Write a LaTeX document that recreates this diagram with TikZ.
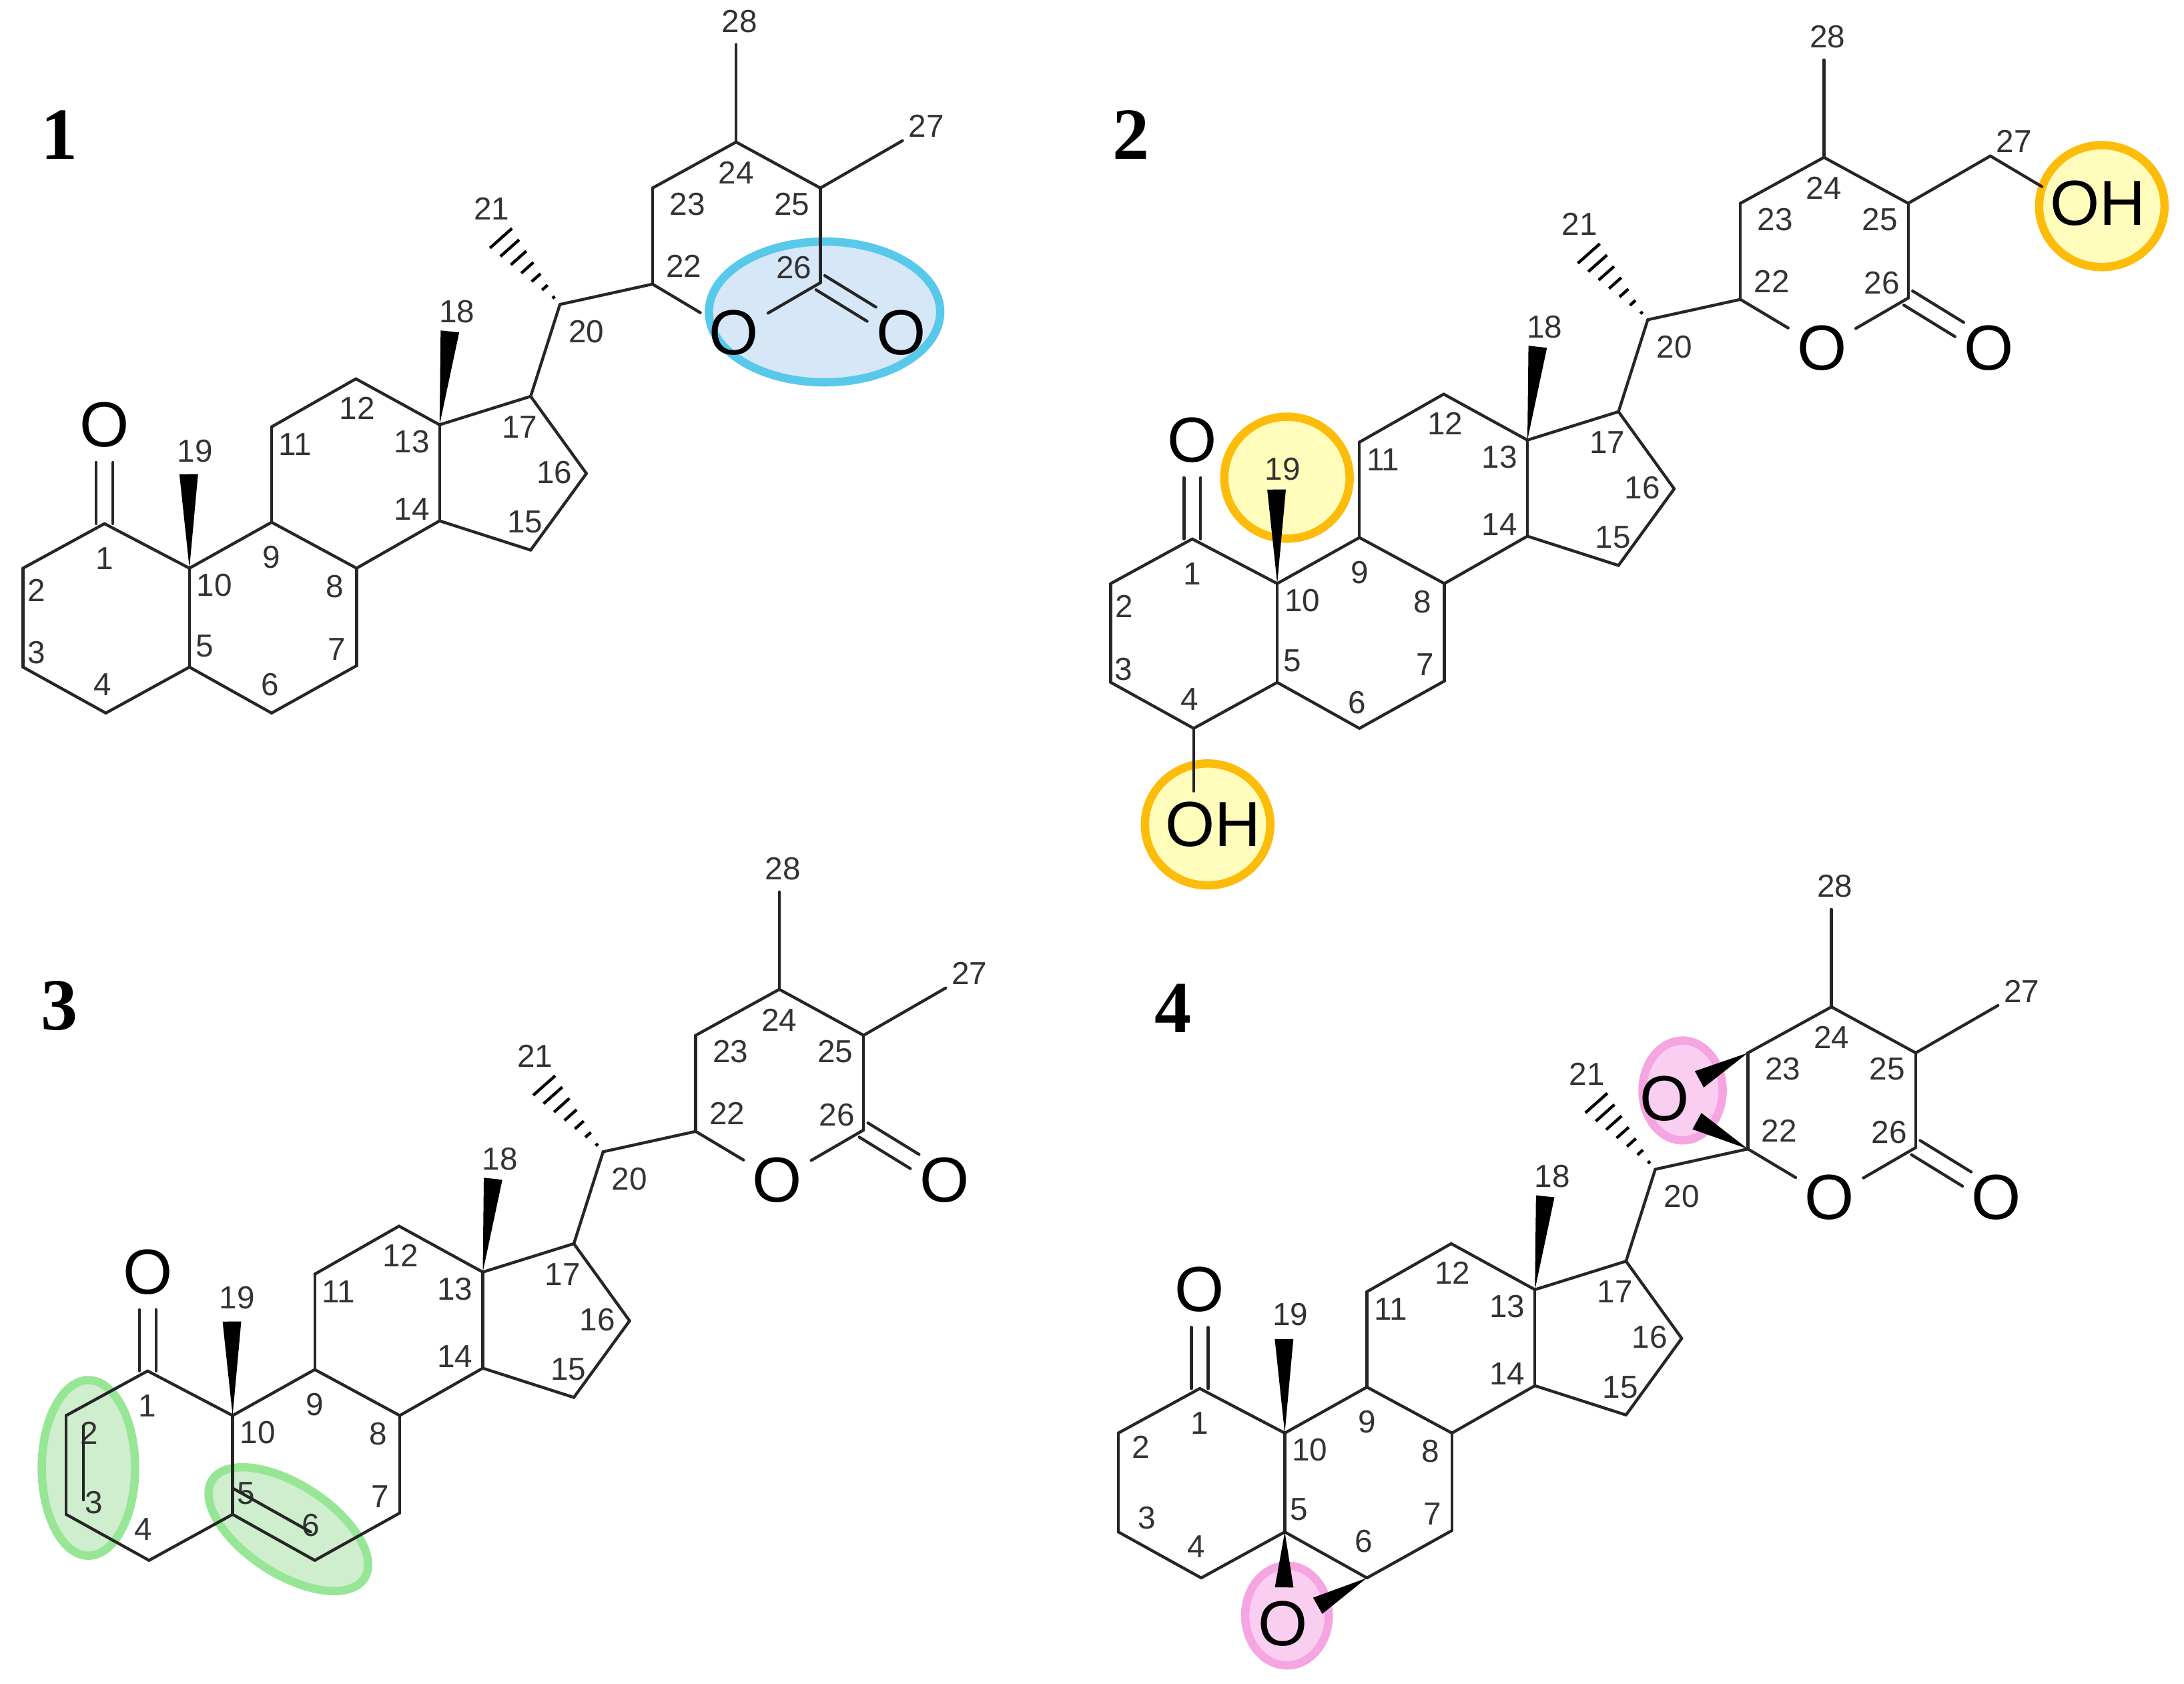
\documentclass[tikz,border=0pt]{standalone}
\usepackage{fontspec}
\setmainfont{Liberation Sans}
\newfontfamily\molfont{Liberation Serif}
\usetikzlibrary{calc}
\usetikzlibrary{shapes.geometric}
\definecolor{lactonefill}{RGB}{214,231,247}
\definecolor{lactoneline}{RGB}{88,200,235}
\definecolor{hydroxyfill}{RGB}{255,252,188}
\definecolor{hydroxyline}{RGB}{253,188,10}
\definecolor{alkenefill}{RGB}{206,238,206}
\definecolor{alkeneline}{RGB}{150,230,150}
\definecolor{epoxyfill}{RGB}{250,206,240}
\definecolor{epoxyline}{RGB}{245,165,225}
\newcommand{\wedgebond}[2]{\fill (#1) -- ($(#2)!1.9pt!90:(#1)$) -- ($(#2)!1.9pt!-90:(#1)$) -- cycle;}
\newcommand{\hashbond}[2]{\foreach \t in {0.1,0.24,...,1} {\draw [line width=0.6pt] ($($(#1)!\t!(#2)$)!\t*3.2pt!90:(#2)$) -- ($($(#1)!\t!(#2)$)!\t*3.2pt!-90:(#2)$);}}
\newcommand{\dblbond}[3]{\draw [bond] ($(#1)!#3!90:(#2)$) -- ($(#2)!#3!-90:(#1)$); \draw [bond] ($(#1)!#3!-90:(#2)$) -- ($(#2)!#3!90:(#1)$);}
\begin{document}
\begin{tikzpicture}[x=0.01cm,y=-0.01cm]
\tikzstyle{bond}=[line width=0.6pt,line cap=round,black!85]
\tikzstyle{numlabel}=[font=\fontsize{6.5}{7}\selectfont,text=black!80,inner sep=0pt]
\tikzstyle{oatom}=[font=\fontsize{13}{14}\selectfont,shape=circle,inner sep=0pt,minimum size=0.55cm]
\tikzstyle{ohatom}=[font=\fontsize{13}{14}\selectfont,inner sep=0pt]
\tikzstyle{molname}=[font=\molfont\bfseries\fontsize{15}{16}\selectfont,inner sep=0pt]
\tikzstyle{ringmark}=[shape=ellipse,inner sep=0pt,line width=1.7pt]
\tikzstyle{lactonemark}=[ringmark,draw=lactoneline,fill=lactonefill]
\tikzstyle{hydroxymark}=[ringmark,draw=hydroxyline,fill=hydroxyfill]
\tikzstyle{alkenemark}=[ringmark,draw=alkeneline,fill=alkenefill]
\tikzstyle{epoxymark}=[ringmark,draw=epoxyline,fill=epoxyfill]
\useasboundingbox (0,0) rectangle (1568,1209);
\node [lactonemark,minimum width=1.66cm,minimum height=1.01cm] (lactone) at (592,224) {};
\node [hydroxymark,minimum width=0.90cm,minimum height=0.875cm] (hyd19) at (924,343) {};
\node [hydroxymark,minimum width=0.90cm,minimum height=0.875cm] (hyd27) at (1509,148) {};
\node [hydroxymark,minimum width=0.90cm,minimum height=0.875cm] (hyd4) at (867,592) {};
\node [alkenemark,minimum width=0.67cm,minimum height=1.26cm] (alk23) at (63.5,1054) {};
\node [alkenemark,minimum width=1.30cm,minimum height=0.64cm,rotate=-33] (alk56) at (207,1098) {};
\node [epoxymark,minimum width=0.575cm,minimum height=0.716cm] (epo23) at (1208,783) {};
\node [epoxymark,minimum width=0.60cm,minimum height=0.716cm] (epo56) at (924,1160) {};
\foreach \m/\dx/\dy in {m1/0/0,m2/781/11,m3/31/608.4,m4/786.4/621} {
  \begin{scope}[shift={(\dx,\dy)}]
    \foreach \n/\x/\y in {1/75/376,2/16.5/408,3/16.5/479,4/76/512,5/136/479,6/195/512,7/256/478,8/256/408,9/195/375,10/136/408,11/195/306.5,12/255.5/272,13/315.6/305,14/315.6/374,15/381/395,16/421/340,17/381/284.6,18/323/238,19/135.5/340.5,20/402/218.6,21/357/168,22/468.5/204,23/468.5/135,24/528.5/102,25/589/135,26/589/203,27/648/101,28/528.5/32} {
      \coordinate (\m c\n) at (\x,\y);
    }
    \coordinate (\m e1) at (75,332);
    \coordinate (\m e26) at (625.7,225.6);
    \node [oatom] (\m oone) at (75,305) {O};
    \node [oatom] (\m oring) at (527,239) {O};
    \node [oatom] (\m oket) at (647,239) {O};
    \foreach \a/\b in {1/2,2/3,3/4,4/5,5/10,10/1,10/9,9/8,8/7,7/6,6/5,9/11,11/12,12/13,13/14,14/8,13/17,17/16,16/15,15/14,17/20,20/22,22/23,23/24,24/25,25/26,25/27,24/28} {
      \draw [bond] (\m c\a) -- (\m c\b);
    }
    \draw [bond] (\m c22) -- (\m oring);
    \draw [bond] (\m c26) -- (\m oring);
    \dblbond{\m c1}{\m e1}{1.7pt}
    \dblbond{\m c26}{\m e26}{1.7pt}
    \wedgebond{\m c10}{\m c19}
    \wedgebond{\m c13}{\m c18}
    \hashbond{\m c20}{\m c21}
    \foreach \n/\x/\y in {1/75/401,7/242/466,8/240.5/421,9/195/400,10/154/420,11/212/319,12/256.5/293,13/295.6/317,14/295.6/365.5,15/377/375,16/398/339,17/373/306.5,18/328/223.6,20/421/238,21/353/150,22/491/191,23/493.5/146.5,24/528.5/124,25/568.6/146.5,26/570/192,27/665/90.6,28/531/15.4} {
      \node [numlabel] (\m n\n) at (\x,\y) {\n};
    }
  \end{scope}
}
\foreach \n/\x/\y in {2/26/424,3/26/468.5,4/73.6/491.6,5/147/464,6/194/491.6,19/140/324} {
  \node [numlabel] (m1n\n) at (\x,\y) {\n};
}
\begin{scope}[shift={(783,11)}]
  \foreach \n/\x/\y in {2/24/424.6,3/23.5/469.5,4/71/491.3,5/144.7/463.5,6/191.4/493.3,19/138/325.7} {
    \node [numlabel] (m2n\n) at (\x,\y) {\n};
  }
\end{scope}
\begin{scope}[shift={(31,608.4)}]
  \foreach \n/\x/\y in {2/33/420.4,3/36.6/470.5,4/71.7/489.6,5/145.8/463.7,6/191.9/486.8,19/139.3/323.2} {
    \node [numlabel] (m3n\n) at (\x,\y) {\n};
  }
\end{scope}
\begin{scope}[shift={(786.4,621)}]
  \foreach \n/\x/\y in {2/32.6/418,3/37/468.7,4/72.6/489.5,5/146/463,6/192.7/485.6,19/140/323} {
    \node [numlabel] (m4n\n) at (\x,\y) {\n};
  }
\end{scope}
\node [ohatom] (oh4) at (871,592) {OH};
\node [ohatom] (oh27) at (1506,146) {OH};
\coordinate (oh4e) at (857,568);
\coordinate (oh27e) at (1466,134);
\draw [bond] (m2c4) -- (oh4e);
\draw [bond] (m2c27) -- (oh27e);
\coordinate (d2a) at (60,1024);
\coordinate (d2b) at (60,1077);
\coordinate (d5a) at (167.8,1069);
\coordinate (d5b) at (223,1100);
\draw [bond] (d2a) -- (d2b);
\draw [bond] (d5a) -- (d5b);
\node [oatom] (oepotop) at (1195,789) {O};
\node [oatom] (oepobot) at (921,1165.7) {O};
\coordinate (w23) at (1220,775);
\coordinate (w22) at (1218.3,805);
\coordinate (w5) at (922,1139.8);
\coordinate (w6) at (946,1153);
\wedgebond{m4c23}{w23}
\wedgebond{m4c22}{w22}
\wedgebond{m4c5}{w5}
\wedgebond{m4c6}{w6}
\draw [bond] (m4c22) -- (m4c23);
\node [molname] (name1) at (42.6,97) {1};
\node [molname] (name2) at (812,97) {2};
\node [molname] (name3) at (42.6,722) {3};
\node [molname] (name4) at (842,724) {4};
\end{tikzpicture}
\end{document}
